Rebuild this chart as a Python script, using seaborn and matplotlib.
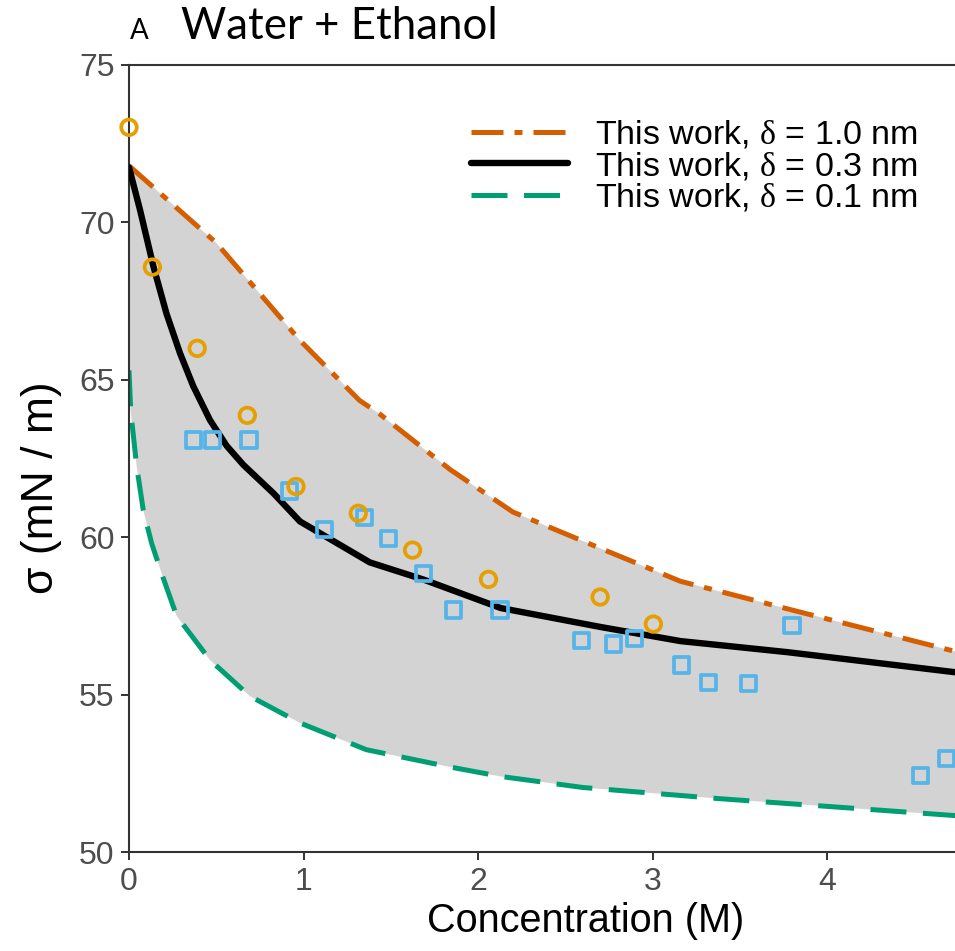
import numpy as np
import pandas as pd
import matplotlib
matplotlib.use("Agg")
import matplotlib.pyplot as plt
import seaborn as sns

# ---- data ----
orange_x = [0, 0.5, 0.98, 1.32, 1.44, 1.84, 1.92, 2.2, 2.7, 3.16, 3.79, 4.75]
orange_y = [71.8, 69.35, 66.25, 64.35, 63.9, 62.15, 61.85, 60.8, 59.65, 58.6, 57.7, 56.35]

black_x = [0, 0.063, 0.14, 0.215, 0.292, 0.368, 0.464, 0.56, 0.655, 0.827, 0.98,
           1.38, 1.69, 2.13, 2.7, 3.16, 3.77, 4.75]
black_y = [71.75, 70.4, 68.6, 67.1, 65.85, 64.8, 63.72, 62.9, 62.3, 61.4, 60.5,
           59.2, 58.65, 57.75, 57.15, 56.7, 56.35, 55.7]

green_x = [0, 0.01, 0.044, 0.082, 0.13, 0.19, 0.273, 0.464, 0.693, 0.98, 1.36, 1.84, 2.13, 2.6, 3.37, 4.0, 4.75]
green_y = [65.3, 64.0, 62.25, 60.85, 59.8, 58.8, 57.5, 56.1, 54.95, 54.1, 53.25, 52.7, 52.4, 52.05, 51.7, 51.45, 51.15]

circ_x = [0, 0.134, 0.391, 0.678, 0.957, 1.314, 1.625, 2.06, 2.70, 3.005]
circ_y = [73.02, 68.58, 66.0, 63.87, 61.61, 60.76, 59.59, 58.66, 58.10, 57.24]

sq_x = [0.368, 0.477, 0.688, 0.92, 1.12, 1.35, 1.486, 1.687, 1.86, 2.126, 2.594,
        2.775, 2.897, 3.165, 3.32, 3.55, 3.80, 4.535, 4.685]
sq_y = [63.09, 63.09, 63.09, 61.47, 60.24, 60.62, 59.96, 58.85, 57.69, 57.69, 56.71,
        56.61, 56.77, 55.94, 55.39, 55.36, 57.20, 52.43, 52.98]

labels = ["This work, $\\mathrm{\\delta}$ = 1.0 nm",
          "This work, $\\mathrm{\\delta}$ = 0.3 nm",
          "This work, $\\mathrm{\\delta}$ = 0.1 nm"]
x_ticks = [0, 1, 2, 3, 4]
y_ticks = [50, 55, 60, 65, 70, 75]

# ---- style ----
sns.set_theme(style="white")
plt.rcParams['font.family'] = ['Liberation Sans', 'DejaVu Sans']
plt.rcParams['mathtext.fontset'] = 'custom'
plt.rcParams['mathtext.rm'] = 'Liberation Serif'
plt.rcParams['mathtext.it'] = 'Liberation Serif:italic'
plt.rcParams['text.color'] = 'black'

C_OR = "#D55E00"
C_GR = "#009E73"
C_CI = "#E69F00"
C_SQ = "#56B4E9"
GREY = "#333333"

W, H = 955, 951
fig = plt.figure(figsize=(W / 100, H / 100), dpi=100)
ax = fig.add_axes([129 / W, 99 / H, 826 / W, 787 / H])

# ribbon between delta=1.0 and delta=0.1
poly_x = np.concatenate([orange_x, green_x[::-1]])
poly_y = np.concatenate([orange_y, green_y[::-1]])
ax.fill(poly_x, poly_y, color="#D3D3D3", lw=0, zorder=1)

df_o = pd.DataFrame({"x": orange_x, "y": orange_y})
df_b = pd.DataFrame({"x": black_x, "y": black_y})
df_g = pd.DataFrame({"x": green_x, "y": green_y})

sns.lineplot(data=df_g, x="x", y="y", ax=ax, color=C_GR, linewidth=3.6,
             linestyle=(0, (7.2, 3.3)), label=labels[2], estimator=None, zorder=2)
sns.lineplot(data=df_o, x="x", y="y", ax=ax, color=C_OR, linewidth=3.6,
             linestyle=(0, (6.4, 2.2, 1.6, 2.2)), label=labels[0], estimator=None, zorder=3)
sns.lineplot(data=df_b, x="x", y="y", ax=ax, color="black", linewidth=4.6,
             label=labels[1], estimator=None, zorder=4)

sns.scatterplot(x=sq_x, y=sq_y, ax=ax, marker="s", s=120, zorder=5, legend=False)
pts = ax.collections[-1]
pts.set_facecolor("none"); pts.set_edgecolor(C_SQ); pts.set_linewidth(2.7)

sns.scatterplot(x=circ_x, y=circ_y, ax=ax, marker="o", s=125, zorder=6, legend=False)
pts = ax.collections[-1]
pts.set_facecolor("none"); pts.set_edgecolor(C_CI); pts.set_linewidth(2.7)
pts.set_clip_on(False)

ax.set_xlim(0, 826 / 174.5)
ax.set_ylim(50, 75)
ax.set_xticks(x_ticks)
ax.set_yticks(y_ticks)
ax.tick_params(axis="both", which="both", direction="out", length=5.5, width=1.4,
               color=GREY, labelcolor="#4D4D4D", labelsize=23,
               left=True, bottom=True, pad=5)
for side in ["left", "top", "bottom"]:
    ax.spines[side].set_visible(True)
    ax.spines[side].set_color(GREY)
    ax.spines[side].set_linewidth(1.5)
ax.spines["right"].set_visible(False)

ax.set_xlabel("Concentration (M)", fontsize=28.5, color="black")
ax.set_ylabel("σ (mN / m)", fontsize=32, color="black")
ax.xaxis.set_label_coords((586 - 129) / 826, -(902 - 852) / 787)
ax.yaxis.set_label_coords(-(129 - 62) / 826, (852 - 488) / 787)

# legend in the order 1.0, 0.3, 0.1
handles, labs = ax.get_legend_handles_labels()
order = [labs.index(l) for l in labels]
leg = ax.legend([handles[i] for i in order], [labs[i] for i in order],
                loc="upper left", bbox_to_anchor=(471 / W, 1 - 119 / H),
                bbox_transform=fig.transFigure, frameon=False, fontsize=24.5,
                handlelength=2.86, handletextpad=0.78, labelspacing=-0.02,
                borderpad=0, borderaxespad=0)

fig.text(130 / W, 1 - 39 / H, "A", fontsize=20, family="Lato", va="baseline", color="black")
fig.text(181 / W, 1 - 39 / H, "Water + Ethanol", fontsize=31.5, family="Lato", va="baseline", color="black")

fig.savefig("out.png", dpi=100)
